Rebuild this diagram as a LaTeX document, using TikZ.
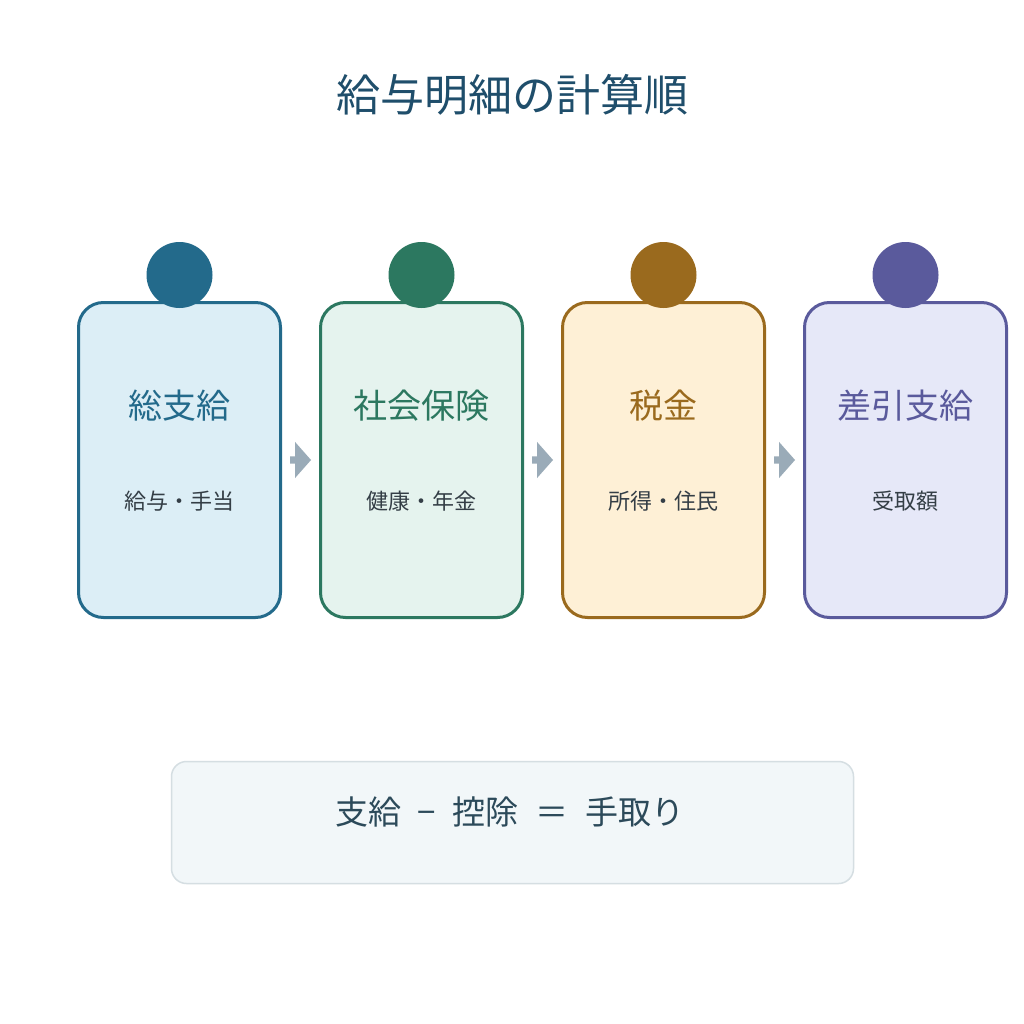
\documentclass[tikz,border=0pt]{standalone}
\usepackage{fontspec}
\setmainfont{Noto Sans CJK JP}
\usetikzlibrary{calc}
\definecolor{cA}{HTML}{236A8B}\definecolor{fA}{HTML}{DCEEF6}
\definecolor{cB}{HTML}{2C7860}\definecolor{fB}{HTML}{E5F3EE}
\definecolor{cC}{HTML}{9A6A1E}\definecolor{fC}{HTML}{FEF0D6}
\definecolor{cD}{HTML}{5A5A9C}\definecolor{fD}{HTML}{E6E8F8}
\definecolor{titlec}{HTML}{1F4E6B}
\definecolor{subc}{HTML}{343E46}
\definecolor{arrc}{HTML}{9AABB8}
\definecolor{formc}{HTML}{2C4A5A}
\definecolor{formfill}{HTML}{F2F7F9}
\definecolor{formline}{HTML}{D5DEE2}
\tikzset{
  stepcard/.style={draw=#1, line width=3pt, rounded corners=25pt, minimum width=202pt, minimum height=315pt, inner sep=0pt},
  dot/.style={circle, fill=#1, minimum size=66pt, inner sep=0pt},
  cardtitle/.style={text=#1, font=\fontsize{34}{40}\selectfont, inner sep=0pt},
  cardsub/.style={text=subc, font=\fontsize{22}{26}\selectfont, inner sep=0pt},
  flowarrow/.style={fill=arrc, draw=none},
}
\begin{document}
\begin{tikzpicture}[x=1pt,y=-1pt]
\useasboundingbox (0,0) rectangle (1024,1024);
\fill[white] (0,0) rectangle (1024,1024);
\node[text=titlec, font=\fontsize{44}{50}\selectfont, inner sep=0pt] (title) at (512,95) {給与明細の計算順};

\foreach \i/\x/\c/\t/\s in {1/179.5/A/総支給/給与・手当, 2/421.5/B/社会保険/健康・年金, 3/663.5/C/税金/所得・住民, 4/905.5/D/差引支給/受取額}{
  \node[stepcard=c\c, fill=f\c] (b\i) at (\x,460) {};
  \node[dot=c\c] (d\i) at (\x,275) {};
  \node[cardtitle=c\c] (t\i) at (\x,406) {\t};
  \node[cardsub] (s\i) at (\x,501) {\s};
}

\foreach \a/\b in {1/2,2/3,3/4}{
  \fill[flowarrow] ($(b\a.east)+(8,-3.6)$) -- ++(5,0) -- ++(0,-14.5) -- ($(b\a.east)+(29,0)$) -- ($(b\a.east)+(13,18.1)$) -- ++(0,-14.5) -- ++(-5,0) -- cycle;
}

\node[draw=formline, fill=formfill, line width=1.5pt, rounded corners=15pt, minimum width=682pt, minimum height=122pt, inner sep=0pt] (formula) at (512.5,822.5) {};
\node[text=formc, font=\fontsize{33}{38}\selectfont, inner sep=0pt] (ftext) at (510,812) {支給\hspace{16pt}−\hspace{16pt}控除\hspace{17pt}＝\hspace{17pt}手取り};
\end{tikzpicture}
\end{document}
